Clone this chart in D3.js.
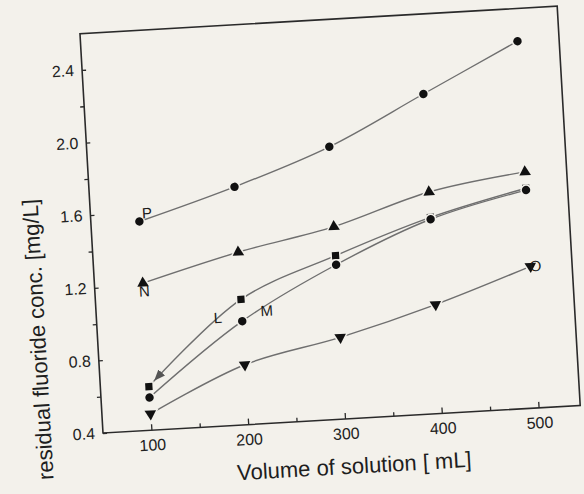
<!DOCTYPE html>
<html>
<head>
<meta charset="utf-8">
<script src="https://cdn.jsdelivr.net/npm/d3@7"></script>
<style>
  body { margin: 0; background: #f3f1eb; }
  svg { display: block; }
  text { font-family: "Liberation Sans", Arial, sans-serif; }
</style>
</head>
<body>
<div id="chart"></div>
<script>
// values
const volumes = [100, 200, 300, 400, 500];
const seriesP = [1.55, 1.71, 1.90, 2.16, 2.42];
const seriesN = [1.21, 1.35, 1.46, 1.62, 1.70];
const seriesL = [0.64, 1.09, 1.30, 1.48, 1.61];
const seriesM = [0.58, 0.97, 1.25, 1.47, 1.60];
const seriesO = [0.49, 0.73, 0.85, 1.00, 1.18];
const xMajor = [100, 200, 300, 400, 500];
const xMinor = [150, 250, 350, 450];
const yMajor = [0.4, 0.8, 1.2, 1.6, 2.0, 2.4];
const yMinor = [0.6, 1.0, 1.4, 1.8, 2.2];

const W = 478, H = 400;
const bg = '#f3f1eb';

const svg = d3.select('#chart').append('svg')
    .attr('width', 584)
    .attr('height', 494);

// the photo is a little tilted, so the whole plot is turned a bit
const g = svg.append('g')
    .attr('transform', `translate(103,433) rotate(-3.3) translate(0,${-H})`);

const x = d3.scaleLinear().domain([50, 543]).range([0, W]);
const y = d3.scaleLinear().domain([0.4, 2.6]).range([H, 0]);

// frame
g.append('rect')
    .attr('x', 0).attr('y', 0)
    .attr('width', W).attr('height', H)
    .attr('fill', 'none')
    .attr('stroke', '#2a2a2a')
    .attr('stroke-width', 1.6);

// x axis
g.append('g')
    .attr('transform', `translate(0,${H})`)
    .call(d3.axisBottom(x).tickValues(xMajor).tickSize(-6).tickPadding(9).tickFormat(d3.format('d')));
g.append('g')
    .attr('transform', `translate(0,${H})`)
    .call(d3.axisBottom(x).tickValues(xMinor).tickSize(-4).tickFormat(''));

// y axis
g.append('g')
    .call(d3.axisLeft(y).tickValues(yMajor).tickSize(-4).tickPadding(8).tickFormat(d3.format('.1f')));
g.append('g')
    .call(d3.axisLeft(y).tickValues(yMinor).tickSize(4).tickFormat(''));

g.selectAll('.domain').remove();
g.selectAll('.tick line').attr('stroke', '#2a2a2a').attr('stroke-width', 1.3);
g.selectAll('.tick text')
    .attr('font-size', 16)
    .attr('fill', '#222');

// axis titles
g.append('text')
    .attr('x', 249)
    .attr('y', H + 55)
    .attr('text-anchor', 'middle')
    .attr('font-size', 22)
    .attr('fill', '#1e1e1e')
    .text('Volume of solution [ mL]');

g.append('text')
    .attr('transform', `translate(-52,${H - 97}) rotate(-90)`)
    .attr('text-anchor', 'middle')
    .attr('font-size', 22)
    .attr('fill', '#1e1e1e')
    .text('residual fluoride conc. [mg/L]');

// arrowhead for the L annotation, pulled back a little from the first square
svg.append('defs').append('marker')
    .attr('id', 'arrow')
    .attr('viewBox', '0 0 10 10')
    .attr('refX', 17).attr('refY', 5)
    .attr('markerWidth', 8).attr('markerHeight', 8)
    .attr('orient', 'auto-start-reverse')
    .append('path')
    .attr('d', 'M0,1 L10,5 L0,9 Z')
    .attr('fill', '#555');

const line = d3.line()
    .x(d => x(d[0]))
    .y(d => y(d[1]))
    .curve(d3.curveCatmullRom.alpha(0.5));

const series = [
    { name: 'P', values: seriesP, symbol: d3.symbolCircle, size: 56, rot: 0, at: 0, lab: [8, -8] },
    { name: 'N', values: seriesN, symbol: d3.symbolTriangle, size: 58, rot: 0, at: 0, lab: [1, 8] },
    { name: 'L', values: seriesL, symbol: d3.symbolSquare, size: 52, rot: 0, at: 1, lab: [-24, 17] },
    { name: 'M', values: seriesM, symbol: d3.symbolCircle, size: 56, rot: 0, at: 1, lab: [25, -9] },
    { name: 'O', values: seriesO, symbol: d3.symbolTriangle, size: 58, rot: 180, at: 4, lab: [5, 0] }
];

series.forEach(s => {
    const pts = volumes.map((v, i) => [v, s.values[i]]);
    const path = g.append('path')
        .datum(pts)
        .attr('d', line)
        .attr('fill', 'none')
        .attr('stroke', '#6f6f6f')
        .attr('stroke-width', 1.4);
    if (s.name === 'L') {
        path.attr('marker-start', 'url(#arrow)');
    }
});

series.forEach(s => {
    g.selectAll(null)
        .data(volumes.map((v, i) => [v, s.values[i]]))
        .enter().append('path')
        .attr('d', d3.symbol().type(s.symbol).size(s.size))
        .attr('transform', d => `translate(${x(d[0])},${y(d[1])}) rotate(${s.rot})`)
        .attr('fill', '#111')
        .attr('stroke', bg)
        .attr('stroke-width', 3)
        .attr('paint-order', 'stroke');
});

// series labels
series.forEach(s => {
    g.append('text')
        .attr('x', x(volumes[s.at]) + s.lab[0])
        .attr('y', y(s.values[s.at]) + s.lab[1])
        .attr('text-anchor', 'middle')
        .attr('dy', '0.35em')
        .attr('font-size', 15)
        .attr('fill', '#1a1a1a')
        .text(s.name);
});
</script>
</body>
</html>
